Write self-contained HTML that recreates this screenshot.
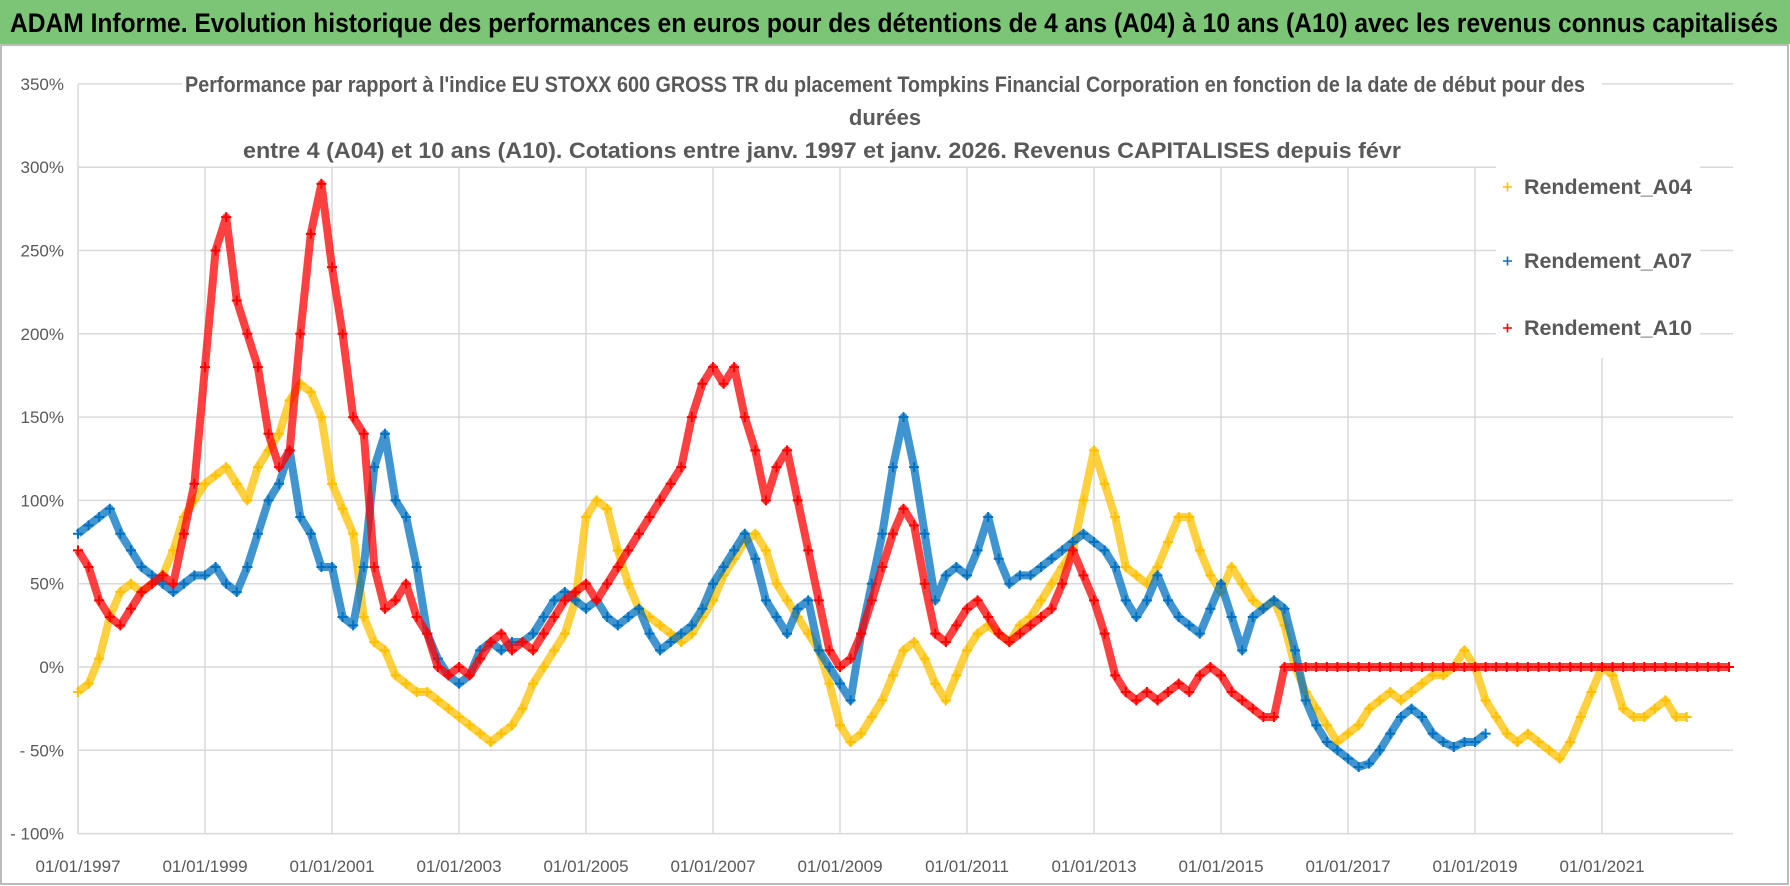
<!DOCTYPE html>
<html><head><meta charset="utf-8"><style>
html,body{margin:0;padding:0;background:#fff;}
svg{display:block;font-family:"Liberation Sans",sans-serif;}
</style></head><body>
<svg id="chart" width="1790" height="886" viewBox="0 0 1790 886">
<rect x="0" y="0" width="1790" height="886" fill="#fff"/>
<rect x="0" y="0" width="1790" height="44" fill="#7CC576"/>
<text x="10" y="32" font-size="27" font-weight="bold" fill="#000" textLength="1768" lengthAdjust="spacingAndGlyphs">ADAM Informe. Evolution historique des performances en euros pour des détentions de 4 ans (A04) à 10 ans (A10) avec les revenus connus capitalisés</text>
<rect x="1" y="45" width="1787" height="839" fill="none" stroke="#a6a6a6" stroke-width="1.5"/>
<g id="grid"></g>
<g id="series"></g>
<rect x="182" y="66" width="1420" height="100" fill="#fff"/>
<g fill="#595959" font-weight="bold" font-size="22" text-anchor="middle">
<text x="885" y="92" textLength="1400" lengthAdjust="spacingAndGlyphs">Performance par rapport à l'indice EU STOXX 600 GROSS TR  du placement Tompkins Financial Corporation en fonction de la date de début pour des</text>
<text x="885" y="125">durées</text>
<text x="822" y="158" textLength="1158" lengthAdjust="spacingAndGlyphs">entre 4 (A04) et 10 ans (A10). Cotations entre janv. 1997 et janv. 2026. Revenus CAPITALISES depuis févr</text>
</g>
<rect x="1496" y="162" width="204" height="196" fill="#fff"/>
<g id="legend" font-size="21" font-weight="bold" fill="#595959"></g>
<g id="axes" fill="#595959" font-size="17"></g>
</svg>
<script>
const NS="http://www.w3.org/2000/svg";
const startYear=1997, stepsPerYear=6;
const yTicks=[350,300,250,200,150,100,50,0,-50,-100];
const yTickLabels=["350%","300%","250%","200%","150%","100%","50%","0%","- 50%","- 100%"];
const xTickYears=[1997,1999,2001,2003,2005,2007,2009,2011,2013,2015,2017,2019,2021];
const xTickLabels=["01/01/1997","01/01/1999","01/01/2001","01/01/2003","01/01/2005","01/01/2007","01/01/2009","01/01/2011","01/01/2013","01/01/2015","01/01/2017","01/01/2019","01/01/2021"];
const seriesNames=["Rendement_A04","Rendement_A07","Rendement_A10"];
const rendementA04=[-15,-10,5,30,45,50, 45,50,55,70,90,100, 110,115,120,110,100,120, 130,140,160,170,165,150, 110,95,80,30,15,10, -5,-10,-15,-15,-20,-25, -30,-35,-40,-45,-40,-35, -25,-10,0,10,20,40, 90,100,95,70,50,35, 30,25,20,15,20,30, 40,55,65,75,80,70, 50,40,30,20,10,-10, -35,-45,-40,-30,-20,-5, 10,15,5,-10,-20,-5, 10,20,25,20,15,25, 30,40,50,60,70,100, 130,110,90,60,55,50, 60,75,90,90,70,55, 45,60,50,40,35,40, 25,0,-15,-25,-35,-45, -40,-35,-25,-20,-15,-20, -15,-10,-5,-5,0,10, 0,-20,-30,-40,-45,-40, -45,-50,-55,-45,-30,-15, 0,-5,-25,-30,-30,-25, -20,-30,-30];
const rendementA07=[80,85,90,95,80,70, 60,55,50,45,50,55, 55,60,50,45,60,80, 100,110,130,90,80,60, 60,30,25,60,120,140, 100,90,60,20,5,-5, -10,-5,10,15,10,15, 15,20,30,40,45,40, 35,40,30,25,30,35, 20,10,15,20,25,35, 50,60,70,80,65,40, 30,20,35,40,10,0, -10,-20,20,50,80,120, 150,120,80,40,55,60, 55,70,90,65,50,55, 55,60,65,70,75,80, 75,70,60,40,30,40, 55,40,30,25,20,35, 50,30,10,30,35,40, 35,10,-20,-35,-45,-50, -55,-60,-58,-50,-40,-30, -25,-30,-40,-45,-48,-45, -45,-40];
const rendementA10=[70,60,40,30,25,35, 45,50,55,50,80,110, 180,250,270,220,200,180, 140,120,130,200,260,290, 240,200,150,140,60,35, 40,50,30,20,0,-5, 0,-5,5,15,20,10, 15,10,20,30,40,45, 50,40,50,60,70,80, 90,100,110,120,150,170, 180,170,180,150,130,100, 120,130,100,70,40,10, 0,5,20,40,60,80, 95,85,50,20,15,25, 35,40,30,20,15,20, 25,30,35,50,70,55, 40,20,-5,-15,-20,-15, -20,-15,-10,-15,-5,0, -5,-15,-20,-25,-30,-30, 0,0,0,0,0,0, 0,0,0,0,0,0, 0,0,0,0,0,0, 0,0,0,0,0,0, 0,0,0,0,0,0, 0,0,0,0,0,0, 0,0,0,0,0,0, 0];
const seriesColors=["#FFC000","#0070C0","#FF0000"];
const X0=78, PX_PER_YEAR=63.5, XEND=1733;
function xScale(year){return X0+(year-1997)*PX_PER_YEAR;}
function yScale(v){return 667-v*(833/500);}
function mk(tag,attrs,parent){const e=document.createElementNS(NS,tag);for(const k in attrs)e.setAttribute(k,attrs[k]);parent.appendChild(e);return e;}
const grid=document.getElementById('grid'), axes=document.getElementById('axes');
yTicks.forEach((v,i)=>{
  const l=mk('line',{x1:X0,x2:XEND,y1:yScale(v),y2:yScale(v),stroke:'#d9d9d9','stroke-width':1.5},grid);
  
  
  const t=mk('text',{x:64,y:yScale(v)+6,'text-anchor':'end'},axes);
  t.textContent=yTickLabels[i];
  
  
});
xTickYears.forEach((yr,i)=>{
  const l=mk('line',{x1:xScale(yr),x2:xScale(yr),y1:yScale(-100),y2:yScale(300),stroke:'#d9d9d9','stroke-width':1.5},grid);
  
  
  const t=mk('text',{x:xScale(yr),y:872,'text-anchor':'middle'},axes);
  t.textContent=xTickLabels[i];
  
  
});
const ax=mk('line',{x1:X0,x2:X0,y1:yScale(350),y2:yScale(-100),stroke:'#d9d9d9','stroke-width':1.5},grid);


const sg=document.getElementById('series');
[rendementA04,rendementA07,rendementA10].forEach((arr,si)=>{
  const g=mk('g',{stroke:seriesColors[si],fill:'none'},sg);
  
  
  const pts=arr.map((v,i)=>xScale(startYear+i/stepsPerYear).toFixed(1)+','+yScale(v).toFixed(1)).join(' ');
  const pl=mk('polyline',{points:pts,'stroke-width':8,'stroke-linejoin':'round','stroke-opacity':0.75},g);
  
  
  arr.forEach((v,i)=>{
    const x=xScale(startYear+i/stepsPerYear), y=yScale(v), s=5;
    const p=mk('path',{d:`M${x-s} ${y}H${x+s}M${x} ${y-s}V${y+s}`,'stroke-width':2},g);
    
    
  });
});
const lg=document.getElementById('legend');
const legendY=[194,268,335];
seriesNames.forEach((n,i)=>{
  const p=mk('path',{d:`M1503 ${legendY[i]-7}h9M1507.5 ${legendY[i]-11.5}v9`,stroke:seriesColors[i],'stroke-width':1.6},lg);
  
  
  const t=mk('text',{x:1524,y:legendY[i],textLength:168,lengthAdjust:'spacingAndGlyphs'},lg);
  t.textContent=n;
  
  
});
</script>
</body></html>
